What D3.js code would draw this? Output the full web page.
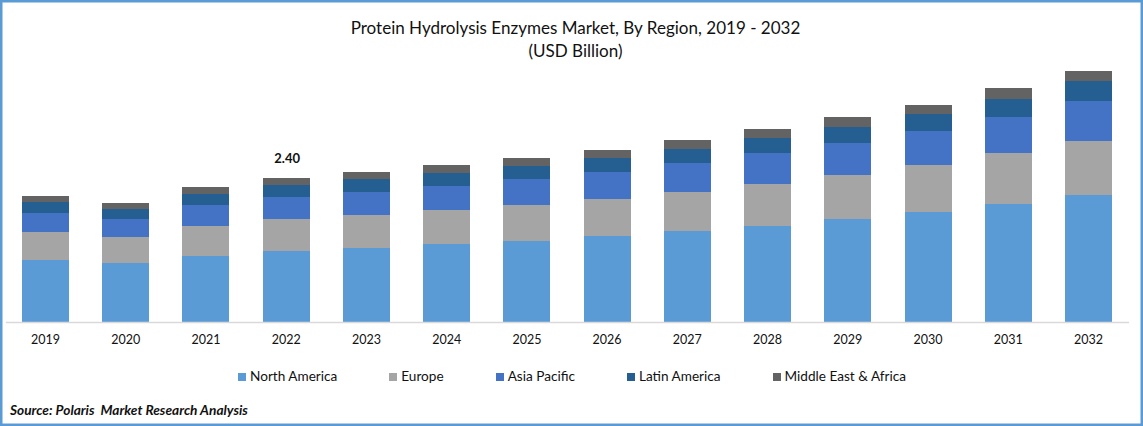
<!DOCTYPE html>
<html>
<head>
<meta charset="utf-8">
<script src="https://cdn.jsdelivr.net/npm/d3@7"></script>
<style>
  html, body { margin: 0; padding: 0; background: #fff; }
  text { font-family: Lato, "Open Sans", sans-serif; fill: #111; }
</style>
</head>
<body>
<div id="chart"></div>
<script>
var years = ['2019','2020','2021','2022','2023','2024','2025','2026','2027','2028','2029','2030','2031','2032'];
var regions = ['North America','Europe','Asia Pacific','Latin America','Middle East & Africa'];
var colors = ['#5B9BD5','#A5A5A5','#4472C4','#255E91','#636363'];

var northAmerica = [1.03,0.98,1.10,1.18,1.23,1.30,1.35,1.43,1.52,1.60,1.72,1.83,1.97,2.12];
var europe       = [0.47,0.43,0.50,0.53,0.55,0.57,0.60,0.62,0.65,0.70,0.73,0.78,0.85,0.90];
var asiaPacific  = [0.32,0.30,0.35,0.37,0.38,0.40,0.43,0.45,0.48,0.52,0.53,0.58,0.60,0.67];
var latinAmerica = [0.18,0.18,0.18,0.20,0.22,0.22,0.22,0.23,0.23,0.25,0.27,0.28,0.30,0.32];
var middleEast   = [0.10,0.10,0.12,0.12,0.12,0.12,0.13,0.13,0.15,0.15,0.17,0.15,0.18,0.18];

var labelYear = '2022';
var labelText = '2.40';

var width = 1143, height = 426, baseY = 322;

var svg = d3.select('#chart').append('svg')
  .attr('width', width)
  .attr('height', height)
  .style('display', 'block');

// frame
svg.append('rect')
  .attr('x', 1.25).attr('y', 1.25)
  .attr('width', width - 2.5).attr('height', height - 2.5)
  .attr('fill', '#fff')
  .attr('stroke', '#5B9BD5')
  .attr('stroke-width', 2.5);

var table = years.map(function(y, i){
  return {
    year: y,
    'North America': northAmerica[i],
    'Europe': europe[i],
    'Asia Pacific': asiaPacific[i],
    'Latin America': latinAmerica[i],
    'Middle East & Africa': middleEast[i]
  };
});

var x = d3.scaleBand()
  .domain(years)
  .range([5.4, 1128.6])
  .paddingInner(0.414)
  .paddingOuter(0.207);

// 60px per USD billion
var y = d3.scaleLinear().domain([0, 2.40]).range([baseY, 178]);

var layers = d3.stack().keys(regions)(table);

svg.append('g').selectAll('g')
  .data(layers)
  .enter().append('g')
  .attr('fill', function(d, i){ return colors[i]; })
  .selectAll('rect')
  .data(function(d){ return d; })
  .enter().append('rect')
  .attr('shape-rendering', 'crispEdges')
  .attr('x', function(d){ return x(d.data.year); })
  .attr('width', x.bandwidth())
  .attr('y', function(d){ return y(d[1]); })
  .attr('height', function(d){ return y(d[0]) - y(d[1]); });

var axis = svg.append('g')
  .attr('transform', 'translate(0,' + baseY + ')')
  .call(d3.axisBottom(x).tickSize(0).tickPadding(13));
axis.select('.domain').attr('stroke', '#D9D9D9').attr('stroke-width', 1.5);
axis.selectAll('text').style('font-size', '12.5px').style('font-family', 'Lato');

// title
svg.append('text')
  .attr('x', 575.5).attr('y', 34)
  .attr('text-anchor', 'middle')
  .style('font-size', '17.05px')
  .text('Protein Hydrolysis Enzymes Market, By Region, 2019 - 2032');
svg.append('text')
  .attr('x', 575.5).attr('y', 57)
  .attr('text-anchor', 'middle')
  .style('font-size', '17.05px')
  .text('(USD Billion)');

// total label
var labelRow = table[years.indexOf(labelYear)];
svg.append('text')
  .attr('x', x(labelYear) + x.bandwidth() / 2 + 1)
  .attr('y', y(d3.sum(regions, function(r){ return labelRow[r]; })) - 15)
  .attr('text-anchor', 'middle')
  .style('font-size', '13px')
  .style('font-weight', 'bold')
  .text(labelText);

// legend, laid out from the measured text widths
var legendX = 238;
regions.forEach(function(r, i){
  svg.append('rect')
    .attr('x', legendX).attr('y', 372.5)
    .attr('width', 8).attr('height', 8)
    .attr('shape-rendering', 'crispEdges')
    .attr('fill', colors[i]);
  var t = svg.append('text')
    .attr('x', legendX + 12).attr('y', 381)
    .style('font-size', '13.6px')
    .text(r);
  legendX += 12 + t.node().getComputedTextLength() + 52;
});

svg.append('text')
  .attr('x', 10).attr('y', 415)
  .style('font-size', '13.7px')
  .style('font-weight', 'bold')
  .style('font-style', 'italic')
  .attr('xml:space', 'preserve')
  .text('Source: Polaris  Market Research Analysis');
</script>
</body>
</html>
